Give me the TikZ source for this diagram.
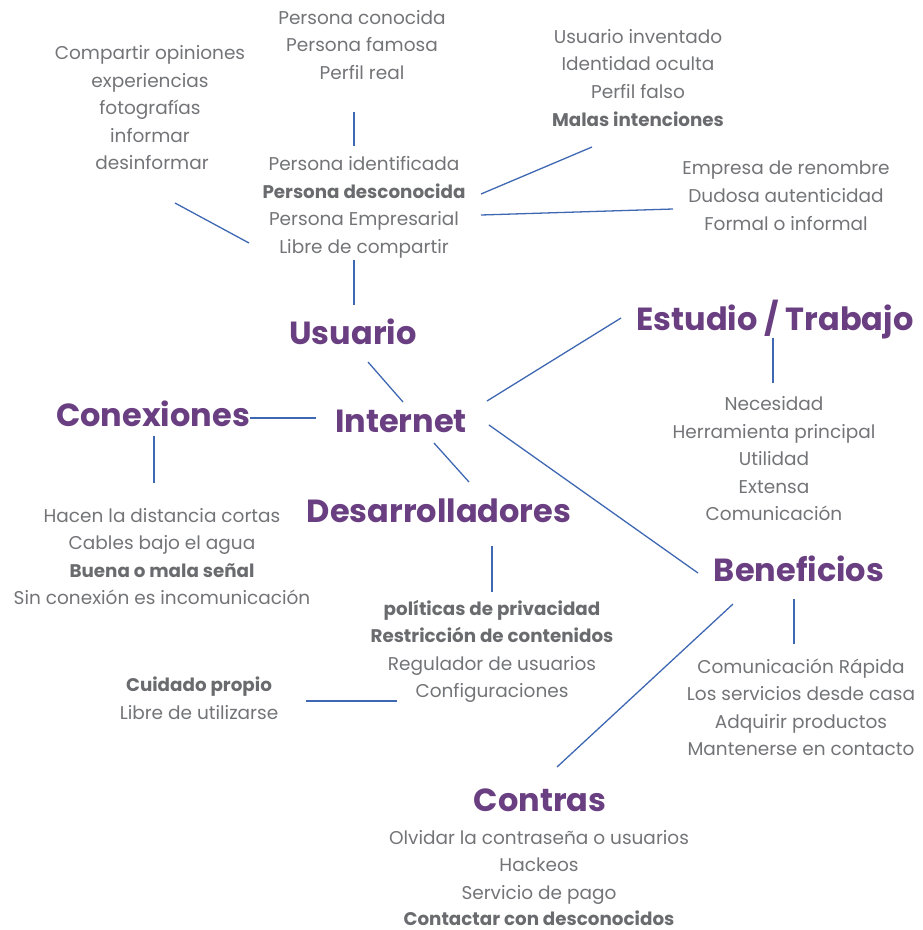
\documentclass[tikz,border=0pt]{standalone}
\usepackage{fontspec}
\setmainfont{Poppins}
\usetikzlibrary{calc}
\definecolor{txtgray}{HTML}{737477}
\definecolor{boldgray}{HTML}{6A6B6E}
\definecolor{titlepurple}{HTML}{6A3F82}
\definecolor{lineblue}{HTML}{3F68B2}
\tikzset{
  item/.style={text=txtgray, font=\fontsize{18.5}{22}\selectfont, inner sep=0pt, anchor=base, yshift=-7pt},
  bitem/.style={item, text=boldgray, font=\fontsize{18.3}{22}\selectfont\bfseries},
  title/.style={text=titlepurple, font=\fontsize{32}{36}\selectfont\bfseries, inner sep=0pt, anchor=base, yshift=-11pt},
  link/.style={draw=lineblue, line width=1.3pt}
}
\begin{document}
\begin{tikzpicture}[x=1pt,y=-1pt]
\useasboundingbox (0,0) rectangle (923,930);
% top center block
\node[item] (conocida) at (362,17) {Persona conocida};
\node[item] (famosa) at (362,44) {Persona famosa};
\node[item] (real) at (362,72) {Perfil real};
% left top block
\node[item] (opiniones) at (150,52) {Compartir opiniones};
\node[item] (experiencias) at (150,80) {experiencias};
\node[item] (fotos) at (150,107) {fotografías};
\node[item] (informar) at (150,135) {informar};
\node[item] (desinformar) at (152,162) {desinformar};
% right top block
\node[item] (inventado) at (638,36) {Usuario inventado};
\node[item] (oculta) at (638,63) {Identidad oculta};
\node[item] (falso) at (638,91) {Perfil falso};
\node[bitem] (malas) at (638,119) {Malas intenciones};
% middle block
\node[item] (identificada) at (364,163) {Persona identificada};
\node[bitem] (desconocida) at (364,191) {Persona desconocida};
\node[item] (empresarial) at (364,218) {Persona Empresarial};
\node[item] (libre) at (364,246) {Libre de compartir};
% empresa block
\node[item] (renombre) at (786,167) {Empresa de renombre};
\node[item] (dudosa) at (786,195) {Dudosa autenticidad};
\node[item] (formal) at (786,223) {Formal o informal};
% titles
\node[title] (usuario) at (353,333) {Usuario};
\node[title] (estudio) at (775,319) {Estudio / Trabajo};
\node[title] (internet) at (401,421) {Internet};
\node[title] (conexiones) at (153,415) {Conexiones};
\node[title] (desarrolladores) at (439,511) {Desarrolladores};
\node[title] (beneficios) at (799,570) {Beneficios};
\node[title] (contras) at (540,800) {Contras};
% estudio list
\node[item] (necesidad) at (774,403) {Necesidad};
\node[item] (herramienta) at (774,431) {Herramienta principal};
\node[item] (utilidad) at (774,458) {Utilidad};
\node[item] (extensa) at (774,486) {Extensa};
\node[item] (comunicacion) at (774,513) {Comunicación};
% conexiones list
\node[item] (hacen) at (162,515) {Hacen la distancia cortas};
\node[item] (cables) at (162,542) {Cables bajo el agua};
\node[bitem] (senal) at (162,570) {Buena o mala señal};
\node[item] (sinconexion) at (162,597) {Sin conexión es incomunicación};
% desarrolladores list
\node[bitem] (politicas) at (492,608) {políticas de privacidad};
\node[bitem] (restriccion) at (492,635) {Restricción de contenidos};
\node[item] (regulador) at (492,663) {Regulador de usuarios};
\node[item] (config) at (492,690) {Configuraciones};
% cuidado
\node[bitem] (cuidado) at (199,684) {Cuidado propio};
\node[item] (utilizarse) at (199,712) {Libre de utilizarse};
% beneficios list
\node[item] (rapida) at (801,666) {Comunicación Rápida};
\node[item] (servicios) at (801,693) {Los servicios desde casa};
\node[item] (adquirir) at (801,721) {Adquirir productos};
\node[item] (mantenerse) at (801,748) {Mantenerse en contacto};
% contras list
\node[item] (olvidar) at (539,837) {Olvidar la contraseña o usuarios};
\node[item] (hackeos) at (539,864) {Hackeos};
\node[item] (pago) at (539,892) {Servicio de pago};
\node[bitem] (contactar) at (539,918) {Contactar con desconocidos};
% connectors
\draw[link] ($(real.base)+(-8,33)$) -- ($(identificada.base)+(-10,-24)$);
\draw[link] ($(desconocida.base)+(117,-4)$) -- ($(malas.base)+(-46,21)$);
\draw[link] ($(empresarial.base)+(117,-10)$) -- ($(dudosa.base)+(-113,7)$);
\draw[link] ($(desinformar.base)+(23,34)$) -- ($(libre.base)+(-115,-10)$);
\draw[link] ($(libre.base)+(-10,7)$) -- ($(usuario.base)+(1,-39)$);
\draw[link] ($(usuario.base)+(15,18)$) -- ($(internet.base)+(2,-30)$);
\draw[link] ($(conexiones.base)+(97,-8)$) -- ($(internet.base)+(-85,-14)$);
\draw[link] ($(internet.base)+(86,-31)$) -- ($(estudio.base)+(-154,-12)$);
\draw[link] ($(internet.base)+(33,11)$) -- ($(desarrolladores.base)+(30,-40)$);
\draw[link] ($(internet.base)+(88,-7)$) -- ($(beneficios.base)+(-101,-8)$);
\draw[link] ($(estudio.base)+(-2,8)$) -- ($(necesidad.base)+(-1,-27)$);
\draw[link] ($(conexiones.base)+(1,10)$) -- ($(hacen.base)+(-8,-39)$);
\draw[link] ($(desarrolladores.base)+(53,24)$) -- ($(politicas.base)+(0,-23)$);
\draw[link] ($(cuidado.base)+(107,10)$) -- ($(config.base)+(-95,4)$);
\draw[link] ($(beneficios.base)+(-5,18)$) -- ($(rapida.base)+(-7,-29)$);
\draw[link] ($(beneficios.base)+(-66,23)$) -- ($(contras.base)+(17,-44)$);
\end{tikzpicture}
\end{document}
